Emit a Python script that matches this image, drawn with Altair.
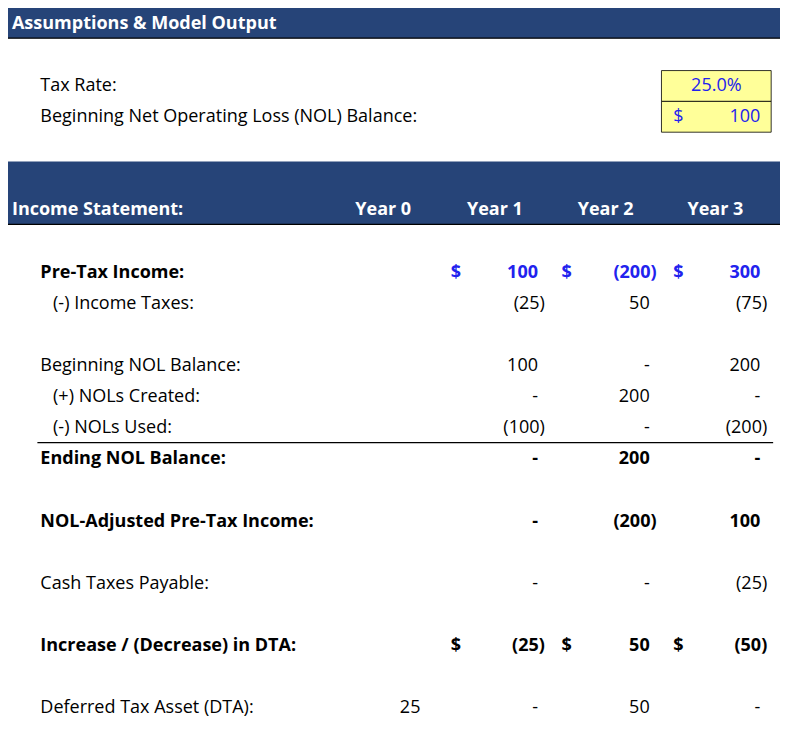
import altair as alt
import pandas as pd

# spreadsheet content
years = ["Year 0", "Year 1", "Year 2", "Year 3"]
tax_rate = "25.0%"
beg_nol = "100"

row_labels = [
    "Pre-Tax Income:", "(-) Income Taxes:", "Beginning NOL Balance:", "(+) NOLs Created:",
    "(-) NOLs Used:", "Ending NOL Balance:", "NOL-Adjusted Pre-Tax Income:",
    "Cash Taxes Payable:", "Increase / (Decrease) in DTA:", "Deferred Tax Asset (DTA):",
]
row_indent = [False, True, False, True, True, False, False, False, False, False]
row_pos = [8, 9, 11, 12, 13, 14, 16, 18, 20, 22]
row_bold = [True, False, False, False, False, True, True, False, True, False]
year0 = ["", "", "", "", "", "", "", "", "", "25"]
year1 = ["100", "(25)", "100", "-", "(100)", "-", "-", "-", "(25)", "-"]
year2 = ["(200)", "50", "-", "200", "-", "200", "(200)", "-", "50", "50"]
year3 = ["300", "(75)", "200", "-", "(200)", "-", "100", "(25)", "(50)", "-"]
dollar_rows = [8, 20]

col_right = [428, 548, 662, 775]
col_center = [383, 497, 610, 722]
dollar_x = [452, 565, 679]

NAVY = "#264478"
BLUE = "#2222EE"
FONT = "Open Sans"

texts = []
def add(x, row, s, align="left", bold=False, color="black"):
    texts.append(dict(x=x, row=row, t=s, al=align, wt="bold" if bold else "normal", color=color))

add(4, 0, "Assumptions & Model Output", bold=True, color="white")
add(33, 2, "Tax Rate:")
add(33, 3, "Beginning Net Operating Loss (NOL) Balance:")
add(723, 2, tax_rate, "center", color=BLUE)
add(679, 3, "$", color=BLUE)
add(768, 3, beg_nol, "right", color=BLUE)
add(4, 6, "Income Statement:", bold=True, color="white")
for i, y in enumerate(years):
    add(col_center[i], 6, y, "center", bold=True, color="white")

for r, lab, ind, b in zip(row_pos, row_labels, row_indent, row_bold):
    add(46 if ind else 33, r, lab, bold=b)
for ci, col in enumerate([year0, year1, year2, year3]):
    for r, v, b in zip(row_pos, col, row_bold):
        if not v:
            continue
        x = col_right[ci] - (0 if v.endswith(")") else 7)
        blue = r == 8
        add(x, r, v, "right", bold=b or blue, color=BLUE if blue else "black")
for r in dollar_rows:
    for dx in dollar_x:
        add(dx, r, "$", bold=True, color=BLUE if r == 8 else "black")

tdf = pd.DataFrame(texts)

bars = pd.DataFrame([
    dict(x=0, x2=788, r=-0.5, r2=0.47),
    dict(x=0, x2=788, r=4.43, r2=6.45),
])
boxes = pd.DataFrame([
    dict(x=667, x2=779, r=1.51, r2=2.5),
    dict(x=667, x2=779, r=2.5, r2=3.49),
])
lines = pd.DataFrame([
    dict(x=0, x2=788, r=0.47),
    dict(x=0, x2=788, r=6.45),
    dict(x=30, x2=781, r=13.46),
])

X = alt.Scale(domain=[0, 788])
Y = alt.Scale(domain=[-0.5, 22.92], reverse=True)

bar_layer = alt.Chart(bars).mark_rect(color=NAVY).encode(
    x=alt.X("x:Q", scale=X, axis=None), x2="x2",
    y=alt.Y("r:Q", scale=Y, axis=None), y2="r2",
)
box_layer = alt.Chart(boxes).mark_rect(fill="#FFFF99", stroke="black", strokeWidth=0.8).encode(
    x=alt.X("x:Q", scale=X, axis=None), x2="x2",
    y=alt.Y("r:Q", scale=Y, axis=None), y2="r2",
)
line_layer = alt.Chart(lines).mark_rule(color="black", strokeWidth=1.2).encode(
    x=alt.X("x:Q", scale=X, axis=None), x2="x2",
    y=alt.Y("r:Q", scale=Y, axis=None),
)

def text_layer(align, weight):
    d = tdf[(tdf["al"] == align) & (tdf["wt"] == weight)]
    return alt.Chart(d).mark_text(
        align=align, baseline="middle", font=FONT, fontSize=18, fontWeight=weight
    ).encode(
        x=alt.X("x:Q", scale=X, axis=None),
        y=alt.Y("row:Q", scale=Y, axis=None),
        text="t:N",
        color=alt.Color("color:N", scale=None),
    )

layers = [bar_layer, box_layer, line_layer]
for a in ["left", "center", "right"]:
    for w in ["normal", "bold"]:
        layers.append(text_layer(a, w))

chart = alt.layer(*layers).properties(
    width=772, height=729, autosize=alt.AutoSizeParams(type="none"), padding=0
).configure_view(stroke=None)

chart.save("out.html", embed_options={"renderer": "svg", "actions": False})
